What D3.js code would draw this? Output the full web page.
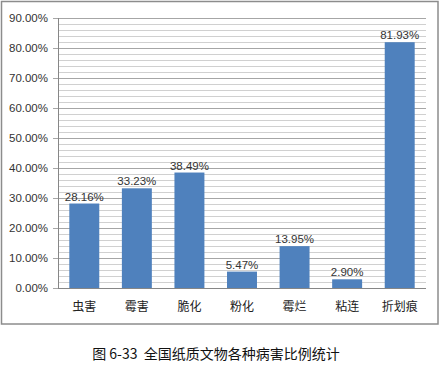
<!DOCTYPE html>
<html><head><meta charset="utf-8">
<script src="https://cdn.jsdelivr.net/npm/d3@7/dist/d3.min.js"></script>
<style>
html,body{margin:0;padding:0;background:#fff;}
svg{display:block;}
</style>
</head><body>
<svg id="chart" width="440" height="368"></svg>
<script>
const categories = ["虫害","霉害","脆化","粉化","霉烂","粘连","折划痕"];
const values = [0.2816,0.3323,0.3849,0.0547,0.1395,0.0290,0.8193];
const valueLabels = ["28.16%","33.23%","38.49%","5.47%","13.95%","2.90%","81.93%"];
const yTicks = [0,0.1,0.2,0.3,0.4,0.5,0.6,0.7,0.8,0.9];
const yTickLabels = ["0.00%","10.00%","20.00%","30.00%","40.00%","50.00%","60.00%","70.00%","80.00%","90.00%"];
const caption = "图 6-33  全国纸质文物各种病害比例统计";

(function(){
const svg = d3.select("#chart");
const pL = 58, pR = 426, pT = 18, pB = 288;
const numFont = "'Liberation Sans', Arial, sans-serif";

svg.append("rect").attr("x",1.5).attr("y",1.5).attr("width",436.5).attr("height",322.5)
  .attr("fill","#fff").attr("stroke","#8c8c8c").attr("stroke-width",1.5);

const x = d3.scaleBand().domain(categories).range([pL,pR]).paddingInner(0.43).paddingOuter(0.215);
const y = d3.scaleLinear().domain([0,0.9]).range([pB,pT]);

// minor gridlines every 2%
const minor = d3.range(0,46).filter(i => i % 5 !== 0).map(i => i/50);
svg.append("g").selectAll("line").data(minor).join("line")
  .attr("x1",pL).attr("x2",pR)
  .attr("y1",d=>Math.round(y(d))+0.5).attr("y2",d=>Math.round(y(d))+0.5)
  .attr("stroke","#d0d0d0").attr("stroke-width",1);

// major gridlines via axis
const yAxis = d3.axisLeft(y).tickValues(yTicks)
  .tickFormat((d,i)=>yTickLabels[i]).tickSize(-(pR-pL)).tickPadding(9);
const gy = svg.append("g").attr("transform",`translate(${pL},0)`).call(yAxis);
gy.select(".domain").remove();
gy.selectAll(".tick line").attr("stroke","#a6a6a6").attr("x1",-5);
gy.selectAll(".tick text").attr("font-family",numFont)
  .attr("font-size","11.5px").attr("fill","#333").attr("x",-10);

// axis lines
svg.append("line").attr("x1",pL+0.5).attr("x2",pL+0.5).attr("y1",pT).attr("y2",pB)
  .attr("stroke","#868686");
svg.append("line").attr("x1",pL).attr("x2",pR).attr("y1",pB+0.5).attr("y2",pB+0.5)
  .attr("stroke","#868686");

// bars
svg.append("g").selectAll("rect").data(values).join("rect")
  .attr("x",(d,i)=>x(categories[i])).attr("width",x.bandwidth())
  .attr("y",d=>y(d)).attr("height",d=>y(0)-y(d))
  .attr("fill","#4F81BD");

// value labels
svg.append("g").selectAll("text").data(values).join("text")
  .attr("x",(d,i)=>x(categories[i])+x.bandwidth()/2)
  .attr("y",d=>y(d)-3)
  .attr("text-anchor","middle")
  .attr("font-family",numFont)
  .attr("font-size","11.5px").attr("fill","#333")
  .text((d,i)=>valueLabels[i]);

// category labels
const xAxis = d3.axisBottom(x).tickSize(0).tickPadding(14);
const gx = svg.append("g").attr("transform",`translate(0,${pB})`).call(xAxis);
gx.select(".domain").remove();
gx.selectAll(".tick text").attr("font-family","'Noto Sans CJK SC', sans-serif")
  .attr("font-size","12px").attr("fill","#222");

// caption
svg.append("text").attr("x",216).attr("y",359).attr("text-anchor","middle")
  .attr("font-family","'Noto Sans CJK SC', sans-serif").attr("font-size","14px").attr("fill","#111")
  .attr("xml:space","preserve").style("white-space","pre")
  .text(caption);
})();
</script>
</body></html>
